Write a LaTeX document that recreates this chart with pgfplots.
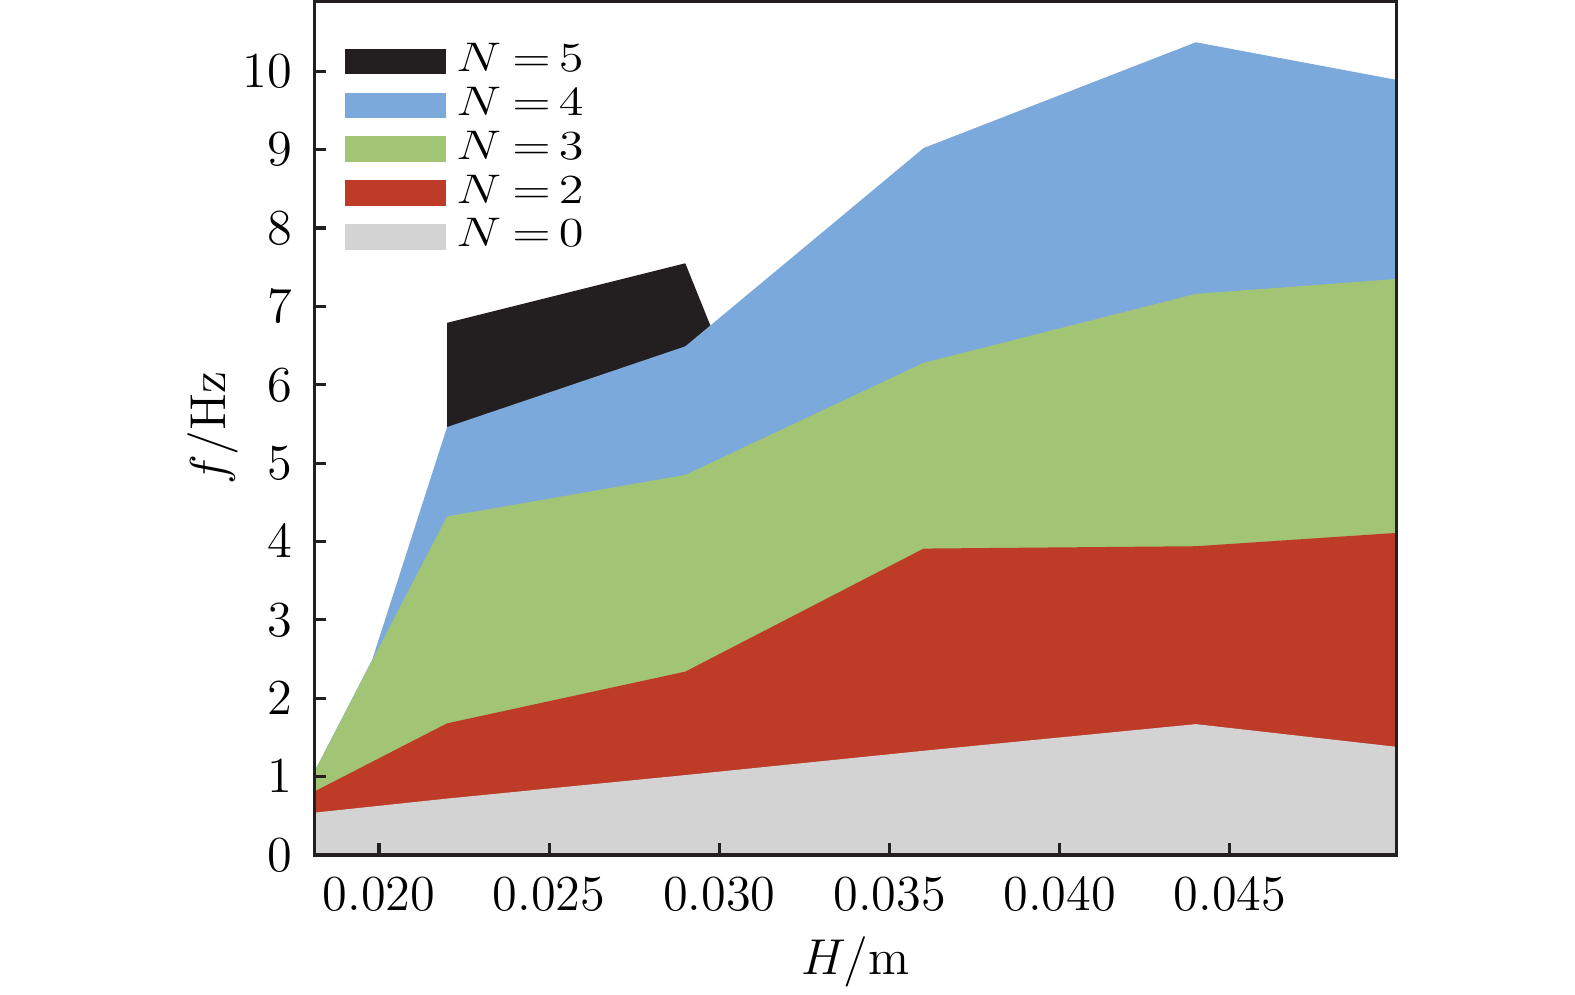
\documentclass[border=0pt]{standalone}
\usepackage{graphicx}
\usepackage{pgfplots}
\pgfplotsset{compat=1.18}
\definecolor{cN5}{RGB}{35,31,32}
\definecolor{cN4}{RGB}{123,169,220}
\definecolor{cN3}{RGB}{161,197,117}
\definecolor{cN2}{RGB}{190,59,40}
\definecolor{cN0}{RGB}{211,211,211}
\definecolor{axc}{RGB}{35,31,32}
\newcommand{\legN}[1]{\scalebox{1}[0.82]{$N\mskip4mu{=}\mskip3mu#1$}}
\begin{document}
\begin{tikzpicture}
\begin{axis}[
  name=ax,
  scale only axis,
  width=257.7pt, height=203.2pt,
  xmin=0.0181, xmax=0.0499,
  ymin=0, ymax=10.89,
  axis on top=true,
  axis line style={draw=axc, line width=0.75pt},
  every tick/.style={draw=axc, line width=0.75pt},
  major tick length=2.8pt,
  tick align=inside,
  xtick pos=bottom, ytick pos=left,
  xtick={0.020,0.025,0.030,0.035,0.040,0.045},
  ytick={0,1,2,3,4,5,6,7,8,9,10},
  scaled x ticks=false,
  tick label style={font=\large},
  xticklabel style={yshift=-2pt, /pgf/number format/fixed, /pgf/number format/fixed zerofill, /pgf/number format/precision=3},
  yticklabel style={xshift=-1.8pt},
  xlabel={$H/\mathrm{m}$},
  ylabel={$f/\mathrm{Hz}$},
  label style={font=\large},
  xlabel style={at={(axis description cs:0.5,-0.1255)}, anchor=center},
  ylabel style={at={(axis description cs:-0.0935,0.5)}, anchor=center},
  legend image code/.code={\fill[#1] (0pt,-3.05pt) rectangle (24pt,3.05pt);},
  legend style={at={(axis description cs:0,1)}, anchor=north west,
    xshift=7.3pt, yshift=-9.1pt,
    draw=none, fill=none, inner sep=0pt, outer sep=0pt,
    row sep=0pt, column sep=2.5pt,
    font=\large,
    nodes={inner sep=0pt, text height=7.61pt, text depth=2.81pt}},
  legend cell align=left,
]
\addplot[fill=cN5, draw=none] coordinates {
 (0.022,6.79) (0.029,7.55) (0.036,0)
} \closedcycle;
\addlegendentry{\legN{5}}
\addplot[fill=cN4, draw=none] coordinates {
 (0.0181,1.06) (0.0198,2.49) (0.022,5.46) (0.029,6.49) (0.036,9.02) (0.044,10.37) (0.0499,9.89)
} \closedcycle;
\addlegendentry{\legN{4}}
\addplot[fill=cN3, draw=none] coordinates {
 (0.0181,1.06) (0.022,4.32) (0.029,4.85) (0.036,6.28) (0.044,7.16) (0.0499,7.35)
} \closedcycle;
\addlegendentry{\legN{3}}
\addplot[fill=cN2, draw=none] coordinates {
 (0.0181,0.81) (0.022,1.68) (0.029,2.34) (0.036,3.91) (0.044,3.94) (0.0499,4.11)
} \closedcycle;
\addlegendentry{\legN{2}}
\addplot[fill=cN0, draw=none] coordinates {
 (0.0181,0.54) (0.022,0.72) (0.029,1.02) (0.036,1.33) (0.044,1.67) (0.0499,1.38)
} \closedcycle;
\addlegendentry{\legN{0}}
\end{axis}
\pgfresetboundingbox
\path ([shift={(-74.83pt,-33.1pt)}]ax.south west) rectangle ([shift={(42.45pt,0.36pt)}]ax.north east);
\end{tikzpicture}
\end{document}
